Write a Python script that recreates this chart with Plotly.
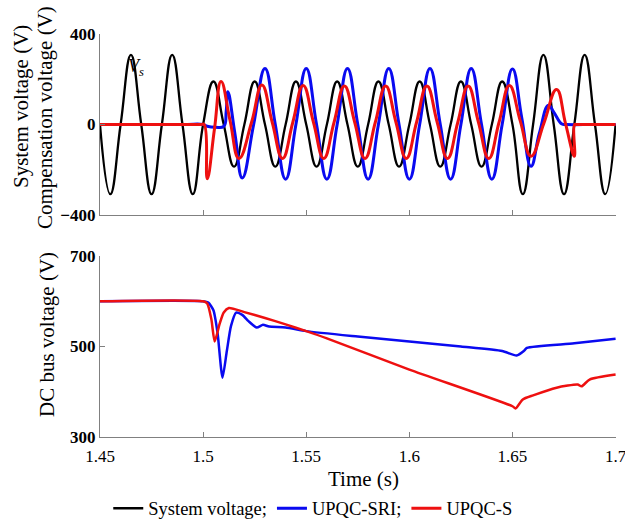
import plotly.graph_objects as go

# ---------------- data ----------------
# Top panel: system voltage (black)
sys_t = [1.450, 1.455, 1.460, 1.465, 1.470, 1.475, 1.480, 1.485, 1.490, 1.495,
         1.500, 1.505, 1.510, 1.515, 1.520, 1.525, 1.530, 1.535, 1.540, 1.545,
         1.550, 1.555, 1.560, 1.565, 1.570, 1.575, 1.580, 1.585, 1.590, 1.595,
         1.600, 1.605, 1.610, 1.615, 1.620, 1.625, 1.630, 1.635, 1.640, 1.645,
         1.650, 1.655, 1.660, 1.665, 1.670, 1.675, 1.680, 1.685, 1.690, 1.695,
         1.700]
sys_v = [0, -308, 0, 308, 0, -308, 0, 308, 0, -308,
         0, 190, 0, -186, 0, 190, 0, -186, 0, 190,
         0, -186, 0, 190, 0, -186, 0, 190, 0, -186,
         0, 190, 0, -186, 0, 190, 0, -186, 0, 190,
         0, -308, 0, 308, 0, -308, 0, 308, 0, -308,
         0]

# Top panel: UPQC-SRI compensation voltage (blue)
sri_t = [1.450, 1.490, 1.500, 1.502, 1.506, 1.510, 1.5112, 1.512, 1.5155, 1.519, 1.5245,
         1.530, 1.535, 1.540, 1.545, 1.550, 1.555, 1.560, 1.565, 1.570, 1.575,
         1.580, 1.585, 1.590, 1.595, 1.600, 1.605, 1.610, 1.615, 1.620, 1.625,
         1.630, 1.635, 1.640, 1.645, 1.650, 1.6545, 1.659, 1.663, 1.6675, 1.670,
         1.674, 1.676, 1.690, 1.700]
sri_v = [0, 0, 0, -8, -12, -8, 60, 145, -45, -236, 0,
         248, 0, -242, 0, 248, 0, -242, 0, 248, 0,
         -242, 0, 248, 0, -242, 0, 248, 0, -242, 0,
         248, 0, -242, 0, 245, 30, -185, -40, 85, 55,
         2, 0, 0, 0]

# Top panel: UPQC-S compensation voltage (red)
s_t = [1.450, 1.490, 1.499, 1.5005, 1.502, 1.5055, 1.5087, 1.5130, 1.5174, 1.5235,
       1.5285, 1.5335, 1.5385, 1.5435, 1.5485, 1.5535, 1.5585, 1.5635,
       1.5685, 1.5735, 1.5785, 1.5835, 1.5885, 1.5935, 1.5985, 1.6035,
       1.6085, 1.6135, 1.6185, 1.6235, 1.6285, 1.6335, 1.6385, 1.6435,
       1.6485, 1.6538, 1.659, 1.6652, 1.6714, 1.6757, 1.680, 1.6801, 1.681,
       1.690, 1.700]
s_v = [0, 0, 0, 0, -240, -20, 190, 20, -150, 10,
       175, 10, -150, 10, 172, 10, -150, 10,
       170, 10, -150, 10, 170, 10, -150, 10,
       170, 10, -150, 10, 170, 10, -150, 10,
       172, 15, -140, 5, 155, 5, -140, 0, 0,
       0, 0]

# Bottom panel: DC bus voltage
dc_sri_t = [1.450, 1.500, 1.5025, 1.505, 1.507, 1.5094, 1.5115, 1.5135, 1.516,
            1.519, 1.522, 1.526, 1.529, 1.532, 1.540, 1.550, 1.575, 1.600,
            1.625, 1.645, 1.652, 1.6555, 1.657, 1.680, 1.700]
dc_sri_v = [600, 600, 597, 580, 530, 431, 490, 545, 575,
            570, 556, 542, 548, 544, 542, 534, 522, 511,
            500, 490, 480, 490, 497, 507, 517]

dc_s_t = [1.450, 1.500, 1.502, 1.504, 1.5056, 1.508, 1.510, 1.5125, 1.520,
          1.530, 1.540, 1.550, 1.560, 1.600, 1.650, 1.6515, 1.655, 1.660,
          1.6714, 1.6816, 1.6835, 1.6874, 1.700]
dc_s_v = [600, 600, 595, 560, 511, 550, 575, 585, 576,
          563, 549, 534, 518, 449, 368, 363, 383, 392,
          409, 416, 412, 427, 438]

x_ticks = [1.45, 1.5, 1.55, 1.6, 1.65, 1.7]
x_tick_text = ["1.45", "1.5", "1.55", "1.6", "1.65", "1.7"]
top_y_ticks = [-400, 0, 400]
bot_y_ticks = [300, 500, 700]

names = ["System voltage;", "UPQC-SRI;", "UPQC-S"]
colors = ["#000000", "#0a0af0", "#ee1010"]

# ---------------- figure ----------------
FONT = "Liberation Serif, Times New Roman, serif"
fig = go.Figure()

fig.add_trace(go.Scatter(x=sys_t, y=sys_v, mode="lines", name=names[0],
                         line=dict(color=colors[0], width=2.3, shape="spline", smoothing=1.3),
                         xaxis="x", yaxis="y"))
fig.add_trace(go.Scatter(x=sri_t, y=sri_v, mode="lines", name=names[1],
                         line=dict(color=colors[1], width=3, shape="spline", smoothing=1.3),
                         xaxis="x", yaxis="y"))
fig.add_trace(go.Scatter(x=s_t, y=s_v, mode="lines", name=names[2],
                         line=dict(color=colors[2], width=3, shape="spline", smoothing=1.3),
                         xaxis="x", yaxis="y"))

fig.add_trace(go.Scatter(x=dc_sri_t, y=dc_sri_v, mode="lines", showlegend=False,
                         line=dict(color=colors[1], width=2.5, shape="spline", smoothing=0.6),
                         xaxis="x2", yaxis="y2"))
fig.add_trace(go.Scatter(x=dc_s_t, y=dc_s_v, mode="lines", showlegend=False,
                         line=dict(color=colors[2], width=2.5, shape="spline", smoothing=0.6),
                         xaxis="x2", yaxis="y2"))

axis_common = dict(showline=True, linecolor="#808080", linewidth=1.2,
                   ticks="inside", ticklen=5, tickcolor="#808080",
                   showgrid=False, zeroline=False, automargin=False)

XR = [1.45, 1.7002]
fig.update_layout(
    width=625, height=519,
    margin=dict(l=100, r=9, t=34, b=82, autoexpand=False),
    paper_bgcolor="white", plot_bgcolor="white",
    font=dict(family=FONT, color="black"),
    xaxis=dict(domain=[0, 1], range=XR, tickvals=x_ticks,
               showticklabels=False, anchor="y", **axis_common),
    yaxis=dict(domain=[0.5509, 1], range=[-400, 400], tickvals=top_y_ticks,
               tickfont=dict(size=17, family=FONT, weight="bold"), anchor="x",
               **axis_common),
    xaxis2=dict(domain=[0, 1], range=XR, tickvals=x_ticks,
                ticktext=x_tick_text, tickfont=dict(size=17, family=FONT),
                ticklabelstandoff=3, ticklabeloverflow="allow",
                anchor="y2", **axis_common),
    yaxis2=dict(domain=[0, 0.4491], range=[300, 700], tickvals=bot_y_ticks,
                tickfont=dict(size=17, family=FONT, weight="bold"), anchor="x2",
                **axis_common),
    showlegend=True,
    legend=dict(orientation="h", x=0.016, xanchor="left", y=-0.178, yanchor="middle",
                font=dict(size=18.5, family=FONT), bgcolor="rgba(0,0,0,0)",
                itemwidth=30, tracegroupgap=0),
)

def px_to_paper_x(px):
    return (px - 100) / 516.0

def px_to_paper_y(py):
    return (437 - py) / 403.0

annos = [
    dict(text="System voltage (V)", x=px_to_paper_x(21), y=px_to_paper_y(107), size=21),
    dict(text="Compensation voltage (V)", x=px_to_paper_x(45), y=px_to_paper_y(118), size=21),
    dict(text="DC bus voltage (V)", x=px_to_paper_x(47), y=px_to_paper_y(335), size=21),
]
for a in annos:
    fig.add_annotation(text=a["text"], x=a["x"], y=a["y"], xref="paper", yref="paper",
                       xanchor="center", yanchor="middle", textangle=-90, showarrow=False,
                       font=dict(size=a["size"], family=FONT, color="black"))

fig.add_annotation(text="Time (s)", x=px_to_paper_x(363), y=px_to_paper_y(479),
                   xref="paper", yref="paper", xanchor="center", yanchor="middle",
                   showarrow=False, font=dict(size=21, family=FONT, color="black"))

fig.add_annotation(text="<i>V<sub>s</sub></i>", x=1.4676, y=250, xref="x", yref="y",
                   showarrow=False, xanchor="center", yanchor="middle",
                   font=dict(size=18, family=FONT, color="black"))

fig.write_html("out.html")
